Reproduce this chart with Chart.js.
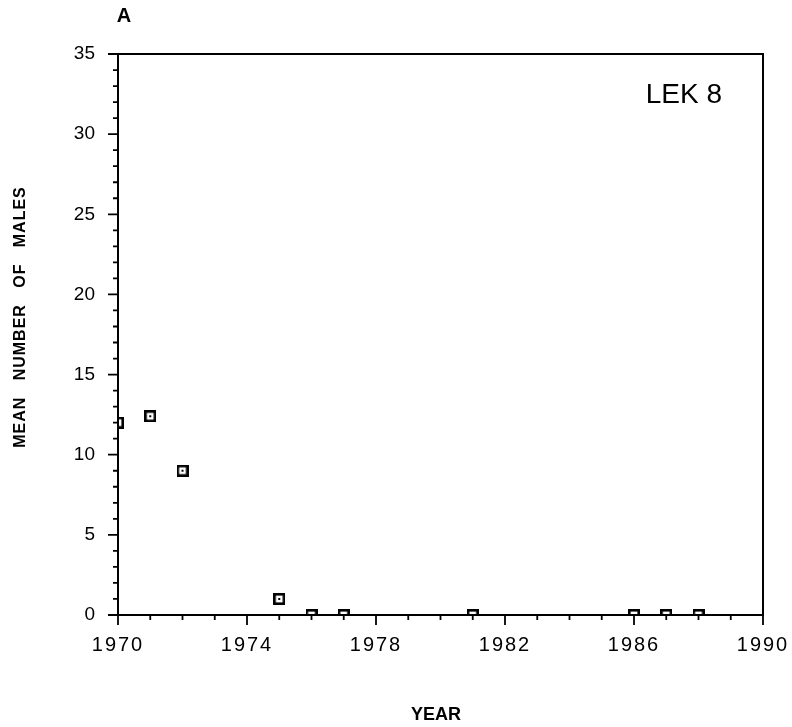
<!DOCTYPE html>
<html>
<head>
<meta charset="utf-8">
<script src="https://cdn.jsdelivr.net/npm/chart.js@4"></script>
<style>
  html, body { margin: 0; padding: 0; background: #fff; }
  canvas { display: block; }
</style>
</head>
<body>
<canvas id="lekChart" width="792" height="727"></canvas>
<script>
// Lek 8 counts by year
const years = [1970, 1971, 1972, 1975, 1976, 1977, 1981, 1986, 1987, 1988];
const meanMales = [12, 12.4, 9, 1, 0, 0, 0, 0, 0, 0];

const yearMin = 1970, yearMax = 1990;
const malesMin = 0, malesMax = 35;

// open square with a dot in the middle
function makeMarker() {
  const c = document.createElement("canvas");
  c.width = 12; c.height = 12;
  const g = c.getContext("2d");
  g.fillStyle = "#fff";
  g.fillRect(0, 0, 12, 12);
  g.strokeStyle = "#000";
  g.lineWidth = 2.6;
  g.strokeRect(1.3, 1.3, 9.4, 9.4);
  g.fillStyle = "#000";
  g.fillRect(5, 5, 2, 2);
  return c;
}

Chart.defaults.font.family = "'Liberation Sans', Arial, sans-serif";
Chart.defaults.color = "#000";

// frame, tick marks and titles
const framePlugin = {
  id: "frame",
  afterDatasetsDraw(chart) {
    const { ctx, chartArea: a, scales: { x, y } } = chart;
    ctx.save();
    ctx.strokeStyle = "#000";
    ctx.lineWidth = 2;
    ctx.strokeRect(a.left, a.top, a.right - a.left, a.bottom - a.top);
    ctx.lineWidth = 1.8;
    ctx.beginPath();
    x.ticks.forEach(t => {
      const px = x.getPixelForValue(t.value);
      const len = t.label ? 10 : 5;
      ctx.moveTo(px, a.bottom);
      ctx.lineTo(px, a.bottom + len);
    });
    y.ticks.forEach(t => {
      const py = y.getPixelForValue(t.value);
      const len = t.label ? 10 : 5;
      ctx.moveTo(a.left, py);
      ctx.lineTo(a.left - len, py);
    });
    ctx.stroke();
    ctx.restore();
    // year labels are drawn in the next layer, spaced out
    ctx.letterSpacing = "2px";
  },
  afterDraw(chart) {
    const ctx = chart.ctx;
    ctx.letterSpacing = "0px";
    ctx.save();
    ctx.fillStyle = "#000";
    ctx.textAlign = "center";
    ctx.textBaseline = "middle";

    ctx.font = "bold 20px 'Liberation Sans', Arial, sans-serif";
    ctx.fillText("A", 124, 16);

    ctx.font = "28px 'Liberation Sans', Arial, sans-serif";
    ctx.textAlign = "right";
    ctx.textBaseline = "alphabetic";
    ctx.fillText("LEK 8", 722, 103);

    ctx.textAlign = "center";
    ctx.textBaseline = "middle";
    ctx.font = "bold 18px 'Liberation Sans', Arial, sans-serif";
    ctx.fillText("YEAR", 436, 715);

    ctx.translate(21, 317);
    ctx.rotate(-Math.PI / 2);
    ctx.font = "bold 16px 'Liberation Sans', Arial, sans-serif";
    ctx.letterSpacing = "1px";
    ctx.fillText("MEAN   NUMBER   OF   MALES", 0, 0);
    ctx.restore();
  }
};

const ctx = document.getElementById("lekChart").getContext("2d");

new Chart(ctx, {
  type: "scatter",
  data: {
    datasets: [{
      label: "Lek 8",
      data: years.map((yr, i) => ({ x: yr, y: meanMales[i] })),
      pointStyle: makeMarker(),
      pointRadius: 6,
      clip: 0
    }]
  },
  options: {
    responsive: false,
    animation: false,
    devicePixelRatio: 1,
    layout: { padding: { left: 0, top: 54, right: 29, bottom: 0 } },
    scales: {
      x: {
        type: "linear",
        min: yearMin,
        max: yearMax,
        grid: { display: false, drawTicks: false },
        border: { display: false },
        ticks: {
          z: 1,
          stepSize: 1,
          autoSkip: false,
          maxRotation: 0,
          padding: 18,
          font: { size: 20 },
          callback: v => (v % 4 === 2 ? String(v) : "")
        },
        afterFit: s => {
          s.height = 112;
          s.paddingLeft = 0;
          s.paddingRight = 0;
        }
      },
      y: {
        min: malesMin,
        max: malesMax,
        grid: { display: false, drawTicks: false },
        border: { display: false },
        ticks: {
          stepSize: 1,
          autoSkip: false,
          padding: 23,
          font: { size: 19 },
          callback: v => (v % 5 === 0 ? String(v) : "")
        },
        afterFit: s => {
          s.width = 118;
          s.paddingTop = 0;
          s.paddingBottom = 0;
        }
      }
    },
    plugins: {
      legend: { display: false },
      tooltip: { enabled: false }
    }
  },
  plugins: [framePlugin]
});
</script>
</body>
</html>
